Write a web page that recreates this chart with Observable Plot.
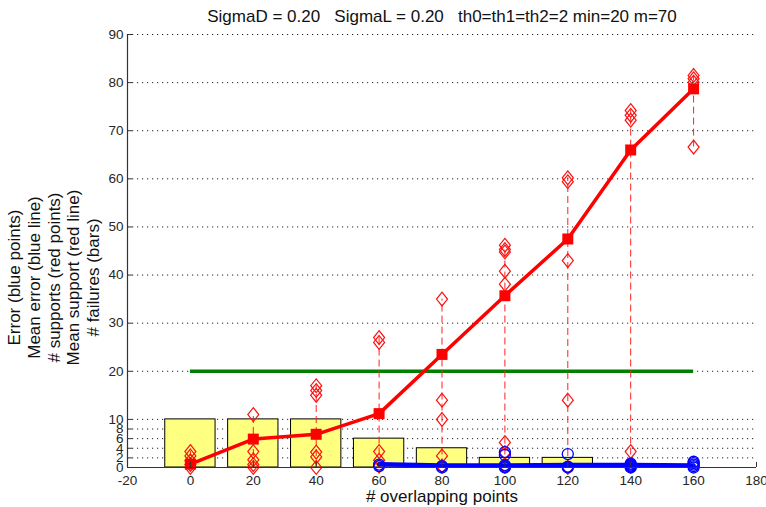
<!DOCTYPE html>
<html>
<head>
<meta charset="utf-8">
<script src="https://cdn.jsdelivr.net/npm/d3@7"></script>
<script src="https://cdn.jsdelivr.net/npm/@observablehq/plot@0.6"></script>
<style>
  html, body { margin: 0; padding: 0; background: #fff; }
  svg text { white-space: pre; }
</style>
</head>
<body>
<div id="chart"></div>
<script>
// ---- data ----
const xs = [0, 20, 40, 60, 80, 100, 120, 140, 160];
const failures = [10, 10, 10, 6, 4, 2, 2, 0, 0];
const meanSupport = [0.7, 5.9, 6.9, 11.2, 23.5, 35.7, 47.5, 66.0, 78.7];
const supports = [
  [3.3, 2.4, 1.4, 0.6, 0],
  [11, 3.3, 1.6, 0.6, 0],
  [17, 16, 15, 3.2, 2.2, 0],
  [27, 26, 3.3, 1.5, 0.3],
  [35, 14, 10, 2.4, 0.3],
  [46.2, 45.3, 44.8, 40.8, 38.1, 5.2, 3.1, 0.3],
  [60.2, 59.4, 43, 14, 0],
  [74.2, 73.2, 72.2, 3.3, 0.3],
  [81.5, 80.8, 80.1, 66.6]
];
const errorXs = [60, 80, 100, 120, 140, 160];
const meanError = [0.7, 0.4, 0.4, 0.5, 0.5, 0.4];
const errors = [
  [0.6, 0.3],
  [0.3, 0],
  [3.2, 2.6, 0.5, 0.2, 0],
  [2.8, 0.2, 0],
  [0.8, 0.6, 0.4, 0.2, 0],
  [1.2, 0.9, 0.6, 0.3, 0]
];
const minThreshold = 20;
const xTicks = [-20, 0, 20, 40, 60, 80, 100, 120, 140, 160, 180];
const yTicks = [0, 2, 4, 6, 8, 10, 20, 30, 40, 50, 60, 70, 80, 90];
const xDomain = [-20, 180];
const yDomain = [0, 90];
const titleText = "SigmaD = 0.20   SigmaL = 0.20   th0=th1=th2=2 min=20 m=70";
const xLabel = "# overlapping points";
const yLabelLines = ["Error (blue points)", "Mean error (blue line)", "# supports (red points)", "Mean support (red line)", "# failures (bars)"];

// ---- derived tables ----
const barHalf = 8;
const barData = xs.map((x, i) => ({x, failures: failures[i]}));
const meanData = xs.map((x, i) => ({x, v: meanSupport[i]}));
const supportPts = xs.flatMap((x, i) => supports[i].map(v => ({x, v})));
const supportRanges = xs.map((x, i) => ({x, lo: d3.min(supports[i]), hi: d3.max(supports[i])}));
const errorPts = errorXs.flatMap((x, i) => errors[i].map(v => ({x, v})));
const meanErrData = errorXs.map((x, i) => ({x, v: meanError[i]}));

const W = 766, H = 507;
const mL = 127, mR = 10, mT = 34, mB = 40;
const frameW = W - mL - mR, frameH = H - mT - mB;

const diamond = {
  draw(ctx, size) {
    const r = Math.sqrt(size / Math.PI);
    ctx.moveTo(0, -r * 1.25);
    ctx.lineTo(r, 0);
    ctx.lineTo(0, r * 1.25);
    ctx.lineTo(-r, 0);
    ctx.closePath();
  }
};

const axisColor = "#333";
const font = "'Liberation Sans', Arial, sans-serif";

const chart = Plot.plot({
  width: W,
  height: H,
  marginLeft: mL,
  marginRight: mR,
  marginTop: mT,
  marginBottom: mB,
  style: {fontFamily: font, fontSize: "13.5px", color: "#262626", background: "#fff"},
  x: {domain: xDomain, label: null},
  y: {domain: yDomain, label: null},
  marks: [
    Plot.ruleY(yTicks, {y: d => d, stroke: "#222", strokeDasharray: "1.2,3.8", strokeWidth: 1}),
    Plot.rectY(barData, {x1: d => d.x - barHalf, x2: d => d.x + barHalf, y1: 0, y2: "failures", fill: "#ffff80", stroke: "#000", strokeWidth: 1}),
    Plot.ruleY([minThreshold], {y: d => d, x1: xs[0], x2: xs[xs.length - 1], stroke: "#008000", strokeWidth: 3.5}),
    Plot.ruleX(supportRanges, {x: "x", y1: "lo", y2: "hi", stroke: "#ff2020", strokeWidth: 1, strokeDasharray: "7,4"}),
    Plot.dot(supportPts, {x: "x", y: "v", symbol: diamond, r: 5.5, stroke: "#ff1010", strokeWidth: 1.2, fill: "none"}),
    Plot.line(meanData, {x: "x", y: "v", stroke: "#ff0000", strokeWidth: 3.5}),
    Plot.dot(meanData, {x: "x", y: "v", symbol: "square", r: 6.2, fill: "#ff0000", stroke: "none"}),
    Plot.dot(errorPts, {x: "x", y: "v", r: 5.5, stroke: "#0000ff", strokeWidth: 1.3, fill: "none"}),
    Plot.line(meanErrData, {x: "x", y: "v", stroke: "#0000ff", strokeWidth: 4.5, clip: "frame"}),
    Plot.ruleY([yDomain[0]], {y: d => d, stroke: axisColor, strokeWidth: 1.2}),
    Plot.ruleX([xDomain[0]], {x: d => d, stroke: axisColor, strokeWidth: 1.2}),
    Plot.tickX(xTicks, {x: d => d, insetTop: frameH - 5, stroke: axisColor}),
    Plot.tickY(yTicks, {y: d => d, insetRight: frameW - 5, stroke: axisColor}),
    Plot.axisX({ticks: xTicks, tickSize: 0, tickPadding: 8, tickFormat: d => String(d), label: null}),
    Plot.axisY({ticks: yTicks, tickSize: 0, tickPadding: 4, tickFormat: d => String(d), label: null}),
    Plot.text([titleText], {text: d => d, frameAnchor: "top", lineAnchor: "middle", dy: -18, fontSize: 17, fill: "#111"}),
    Plot.text([xLabel], {text: d => d, frameAnchor: "bottom", lineAnchor: "middle", dy: 29, fontSize: 17, fill: "#111"}),
    Plot.text([yLabelLines.join("\n")], {text: d => d, frameAnchor: "left", lineAnchor: "middle", textAnchor: "middle", rotate: -90, dx: 52.7 - mL, dy: 26.5, fontSize: 17, lineHeight: 1.16, fill: "#111"})
  ]
});
document.getElementById("chart").appendChild(chart);
</script>
</body>
</html>
